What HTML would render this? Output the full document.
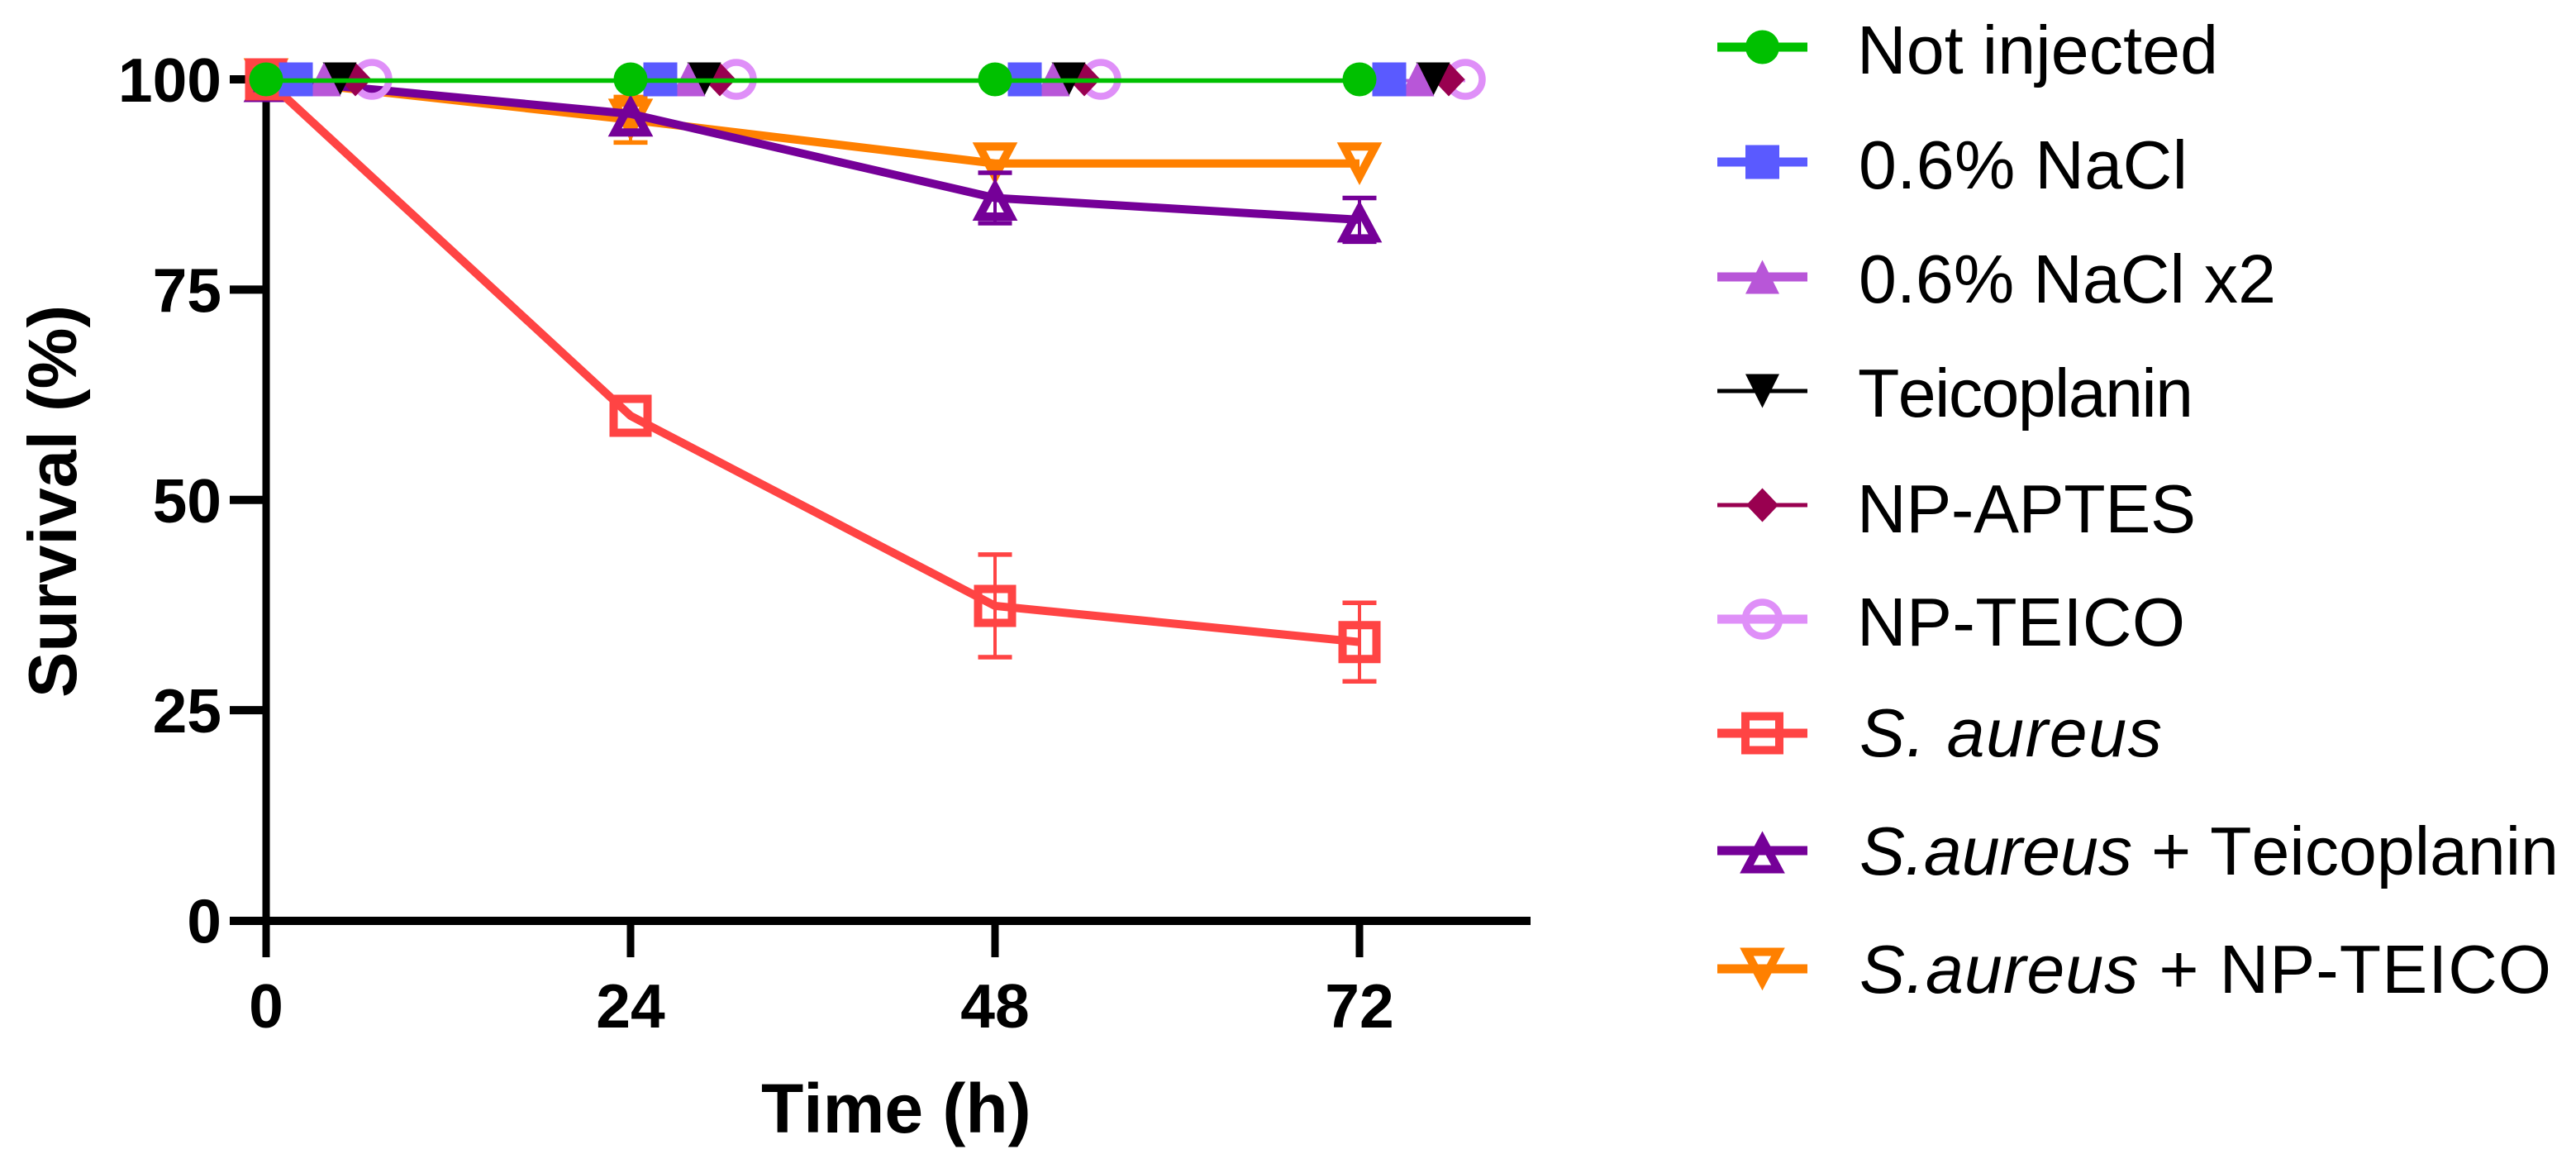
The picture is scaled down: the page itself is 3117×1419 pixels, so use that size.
<!DOCTYPE html>
<html>
<head>
<meta charset="utf-8">
<title>Survival chart</title>
<style>
html,body{margin:0;padding:0;background:#fff;}
svg{display:block;position:absolute;left:0;top:0;}
text{font-family:"Liberation Sans",Arial,sans-serif;fill:#000;font-kerning:none;}
.tick{font-size:75px;font-weight:700;}
.title{font-size:83px;font-weight:700;}
.leg{font-size:82.5px;}
</style>
</head>
<body>
<svg id="chart" xmlns="http://www.w3.org/2000/svg" width="3117" height="1419" viewBox="0 0 3117 1419">
  <rect x="0" y="0" width="3117" height="1419" fill="#ffffff"/>
  <g id="axes"></g>
  <g id="plot"></g>
  <text class="title" transform="translate(92,844) rotate(-90)">Survival (%)</text>
  <text class="title" x="921" y="1370" style="font-size:84px">Time (h)</text>
  <g id="legend">
    <text class="leg" x="2247" y="89" textLength="437" lengthAdjust="spacing">Not injected</text>
    <text class="leg" x="2249" y="228" textLength="398" lengthAdjust="spacing">0.6% NaCl</text>
    <text class="leg" x="2249" y="366" textLength="505" lengthAdjust="spacing">0.6% NaCl x2</text>
    <text class="leg" x="2248" y="504" textLength="406" lengthAdjust="spacing">Teicoplanin</text>
    <text class="leg" x="2247" y="644" textLength="410" lengthAdjust="spacing">NP-APTES</text>
    <text class="leg" x="2247" y="781" textLength="397" lengthAdjust="spacing">NP-TEICO</text>
    <text class="leg" x="2250" y="915" textLength="366" lengthAdjust="spacing"><tspan font-style="italic">S. aureus</tspan></text>
    <text class="leg" x="2250" y="1058" textLength="846" lengthAdjust="spacing"><tspan font-style="italic">S.aureus</tspan> + Teicoplanin</text>
    <text class="leg" x="2250" y="1201" textLength="837" lengthAdjust="spacing"><tspan font-style="italic">S.aureus</tspan> + NP-TEICO</text>
  </g>
</svg>
<script>
// ---- chart data ----
const timePoints = [0, 24, 48, 72];
const xTickLabels = [0, 24, 48, 72];
const yTickLabels = [0, 25, 50, 75, 100];

const notInjected = [100, 100, 100, 100];
const nacl = [100, 100, 100, 100];
const naclX2 = [100, 100, 100, 100];
const teicoplanin = [100, 100, 100, 100];
const npAptes = [100, 100, 100, 100];
const npTeico = [100, 100, 100, 100];
const sAureus = [100, 60, 37.4, 33.1];
const sAureusTeico = [100, 95.9, 85.9, 83.3];
const sAureusNpTeico = [100, 95.2, 90, 90];

const sAureusErr = [0, 0, 6.1, 4.67];
const sAureusTeicoErr = [0, 0, 3, 2.6];
const sAureusNpTeicoErr = [0, 2.7, 0, 0];
const noErr = [0, 0, 0, 0];

const seriesNames = ['not-injected', 'nacl', 'nacl-x2', 'teicoplanin', 'np-aptes', 'np-teico', 's-aureus', 's-aureus-teicoplanin', 's-aureus-np-teico'];

// ---- axis functions ----
function xScale(t) { return 322 + t * (1323 / 72); }
function yScale(v) { return 1113.5 - v * 10.175; }

// ---- appearance ----
const NS = 'http://www.w3.org/2000/svg';
function make(tag, parent) {
  const el = document.createElementNS(NS, tag);
  parent.appendChild(el);
  return el;
}
function markerPath(kind) {
  if (kind === 'circle') return 'M-20.5,0A20.5,20.5 0 1 1 20.5,0A20.5,20.5 0 1 1 -20.5,0Z';
  if (kind === 'square') return 'M-20.5,-20.5H20.5V20.5H-20.5Z';
  if (kind === 'up') return 'M0,-20.5L20.5,20.5H-20.5Z';
  if (kind === 'down') return 'M-20.5,-20.5H20.5L0,20.5Z';
  if (kind === 'diamond') return 'M0,-20.5L19.5,0L0,20.5L-19.5,0Z';
  if (kind === 'osquare') return 'M-20.5,-20.5H20.5V20.5H-20.5Z';
  if (kind === 'oup') return 'M0,-13L19,22.5H-19Z';
  if (kind === 'odown') return 'M-19,-20.5H19L0,15.5Z';
  return '';
}
function drawMarker(parent, kind, cx, cy, color) {
  const open = kind === 'circle-open' || kind.charAt(0) === 'o';
  const p = make('path', parent);
  
  
  p.setAttribute('d', markerPath(kind === 'circle-open' ? 'circle' : kind));
  p.setAttribute('transform', 'translate(' + cx + ',' + cy + ')');
  p.setAttribute('fill', open ? 'none' : color);
  if (open) {
    p.setAttribute('stroke', color);
    p.setAttribute('stroke-width', kind === 'circle-open' ? 8.5 : 10);
    p.setAttribute('stroke-miterlimit', 10);
  }
}
function drawLine(parent, x1, y1, x2, y2, color, w) {
  const l = make('line', parent);
  
  
  l.setAttribute('x1', x1);
  l.setAttribute('y1', y1);
  l.setAttribute('x2', x2);
  l.setAttribute('y2', y2);
  l.setAttribute('stroke', color);
  l.setAttribute('stroke-width', w);
}

function render() {
  const styles = [
    {v: notInjected,    e: noErr,             c: '#00C000', k: 'circle',      off: 0,   w: 5.5, lw: 11, dy: 1.5},
    {v: nacl,           e: noErr,             c: '#5A5AFF', k: 'square',      off: 36,  w: 4,   lw: 11, dy: 1.5},
    {v: naclX2,         e: noErr,             c: '#B856D8', k: 'up',          off: 70,  w: 4,   lw: 11, dy: 1.5},
    {v: teicoplanin,    e: noErr,             c: '#000000', k: 'down',        off: 89,  w: 4,   lw: 5,  dy: 1.5},
    {v: npAptes,        e: noErr,             c: '#990050', k: 'diamond',     off: 108, w: 4,   lw: 5,  dy: 1.5},
    {v: npTeico,        e: noErr,             c: '#DF8FF8', k: 'circle-open', off: 128, w: 4,   lw: 11, dy: 1.5},
    {v: sAureus,        e: sAureusErr,        c: '#FF4444', k: 'osquare',     off: 0,   w: 10,  lw: 11, dy: 0},
    {v: sAureusTeico,   e: sAureusTeicoErr,   c: '#750098', k: 'oup',         off: 0,   w: 10,  lw: 11, dy: 0},
    {v: sAureusNpTeico, e: sAureusNpTeicoErr, c: '#FF8000', k: 'odown',       off: 0,   w: 10,  lw: 11, dy: 0}
  ];
  const legendY = [57, 196, 335, 473, 611, 749, 887, 1029, 1172];

  // axes
  const axes = document.getElementById('axes');
  const yAxis = make('line', axes);
  
  
  yAxis.setAttribute('x1', xScale(0));
  yAxis.setAttribute('x2', xScale(0));
  yAxis.setAttribute('y1', yScale(100) - 4.5);
  yAxis.setAttribute('y2', 1158);
  yAxis.setAttribute('stroke', '#000');
  yAxis.setAttribute('stroke-width', 9);

  const xAxis = make('rect', axes);
  
  
  xAxis.setAttribute('x', 278);
  xAxis.setAttribute('y', 1109);
  xAxis.setAttribute('width', 1574);
  xAxis.setAttribute('height', 10);
  xAxis.setAttribute('fill', '#000');

  yTickLabels.forEach(function (v) {
    const y = yScale(v);
    if (v > 0) {
      const t = make('rect', axes);
      
      
      t.setAttribute('x', 278);
      t.setAttribute('y', y - 5);
      t.setAttribute('width', 44);
      t.setAttribute('height', 10);
      t.setAttribute('fill', '#000');
    }
    const lab = make('text', axes);
    
    
    lab.setAttribute('class', 'tick');
    lab.setAttribute('x', 268);
    lab.setAttribute('y', y + 27);
    lab.setAttribute('text-anchor', 'end');
    lab.textContent = v;
  });
  xTickLabels.forEach(function (v) {
    const x = xScale(v);
    const t = make('line', axes);
    
    
    t.setAttribute('x1', x);
    t.setAttribute('x2', x);
    t.setAttribute('y1', 1112);
    t.setAttribute('y2', 1158);
    t.setAttribute('stroke', '#000');
    t.setAttribute('stroke-width', 9);
    const lab = make('text', axes);
    
    
    lab.setAttribute('class', 'tick');
    lab.setAttribute('x', x);
    lab.setAttribute('y', 1243);
    lab.setAttribute('text-anchor', 'middle');
    lab.textContent = v;
  });

  // series, back to front
  const plot = document.getElementById('plot');
  for (let i = styles.length - 1; i >= 0; i--) {
    const s = styles[i];
    const g = make('g', plot);
    
    
    const pts = timePoints.map(function (t, j) {
      return [xScale(t) + s.off, yScale(s.v[j])];
    });
    // error bars
    timePoints.forEach(function (t, j) {
      if (s.e[j] > 0) {
        const x = pts[j][0];
        const hi = yScale(s.v[j] + s.e[j]);
        const lo = yScale(s.v[j] - s.e[j]);
        drawLine(g, x, hi, x, lo, s.c, 4);
        drawLine(g, x - 20.5, hi, x + 20.5, hi, s.c, 5.5);
        drawLine(g, x - 20.5, lo, x + 20.5, lo, s.c, 5.5);
      }
    });
    // connecting line
    const path = make('polyline', g);
    
    
    path.setAttribute('points', pts.map(function (p) { return p[0] + ',' + (p[1] + s.dy); }).join(' '));
    path.setAttribute('fill', 'none');
    path.setAttribute('stroke', s.c);
    path.setAttribute('stroke-width', s.w);
    path.setAttribute('stroke-linejoin', 'round');
    // markers
    pts.forEach(function (p) {
      drawMarker(g, s.k, p[0], p[1], s.c);
    });
  }

  // legend keys
  const legend = document.getElementById('legend');
  styles.forEach(function (s, i) {
    const g = make('g', legend);
    
    
    drawLine(g, 2078, legendY[i], 2187, legendY[i], s.c, s.lw);
    drawMarker(g, s.k, 2132.5, legendY[i], s.c);
  });
}
render();
</script>
</body>
</html>
